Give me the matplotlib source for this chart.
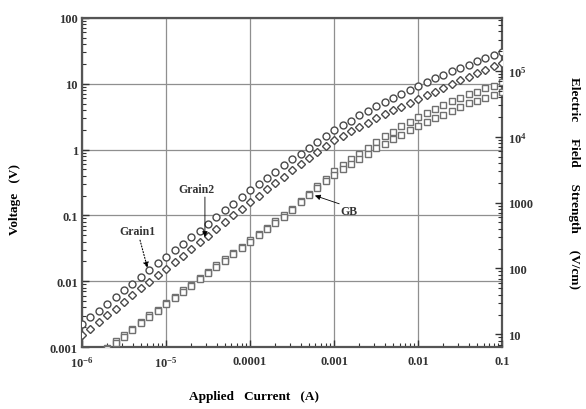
import matplotlib
matplotlib.use("Agg")
import matplotlib.pyplot as plt
from matplotlib.ticker import FixedLocator, FixedFormatter, LogLocator, NullFormatter

plt.rcParams['font.family'] = ['Liberation Serif', 'DejaVu Serif']
plt.rcParams['font.weight'] = 'bold'
plt.rcParams['mathtext.fontset'] = 'custom'
plt.rcParams['mathtext.rm'] = 'Liberation Serif:bold'
plt.rcParams['mathtext.default'] = 'rm'

# Applied current (A), 10 points per decade
current = [1.0e-6, 1.26e-6, 1.58e-6, 2.0e-6, 2.51e-6, 3.16e-6, 3.98e-6, 5.01e-6, 6.31e-6, 7.94e-6,
           1.0e-5, 1.26e-5, 1.58e-5, 2.0e-5, 2.51e-5, 3.16e-5, 3.98e-5, 5.01e-5, 6.31e-5, 7.94e-5,
           1.0e-4, 1.26e-4, 1.58e-4, 2.0e-4, 2.51e-4, 3.16e-4, 3.98e-4, 5.01e-4, 6.31e-4, 7.94e-4,
           1.0e-3, 1.26e-3, 1.58e-3, 2.0e-3, 2.51e-3, 3.16e-3, 3.98e-3, 5.01e-3, 6.31e-3, 7.94e-3,
           1.0e-2, 1.26e-2, 1.58e-2, 2.0e-2, 2.51e-2, 3.16e-2, 3.98e-2, 5.01e-2, 6.31e-2, 7.94e-2,
           1.0e-1]

grain1_v = [0.00224, 0.00282, 0.00355, 0.00457, 0.00575, 0.00724, 0.00912, 0.0115, 0.0148, 0.0186,
            0.0234, 0.0295, 0.0372, 0.0468, 0.0589, 0.0741, 0.0955, 0.120, 0.151, 0.191,
            0.240, 0.295, 0.372, 0.457, 0.575, 0.708, 0.871, 1.07, 1.32, 1.62,
            2.00, 2.34, 2.75, 3.31, 3.89, 4.57, 5.25, 6.03, 7.08, 8.13,
            9.33, 10.5, 12.0, 13.5, 15.5, 17.4, 19.5, 21.9, 24.5, 26.9,
            30.2]

grain2_v = [0.00151, 0.00191, 0.00240, 0.00302, 0.00380, 0.00479, 0.00617, 0.00776, 0.00977, 0.0123,
            0.0155, 0.0195, 0.0245, 0.0309, 0.0389, 0.0490, 0.0631, 0.0794, 0.100, 0.126,
            0.158, 0.200, 0.251, 0.309, 0.389, 0.490, 0.603, 0.741, 0.912, 1.12,
            1.38, 1.62, 1.91, 2.19, 2.57, 3.02, 3.47, 3.98, 4.47, 5.13,
            5.89, 6.76, 7.59, 8.71, 9.77, 11.2, 12.6, 14.5, 16.2, 18.6,
            20.9]

# grain-boundary curves start at 2e-6 A (current[3:])
gb1_v = [0.000977, 0.00123, 0.00151, 0.00191, 0.00240, 0.00302, 0.00372,
         0.00468, 0.00575, 0.00724, 0.00891, 0.0112, 0.0138, 0.0174, 0.0214, 0.0269, 0.0331,
         0.0417, 0.0525, 0.0646, 0.0813, 0.100, 0.126, 0.166, 0.214, 0.282, 0.363,
         0.479, 0.589, 0.724, 0.871, 1.07, 1.32, 1.58, 1.86, 2.24, 2.63,
         3.16, 3.63, 4.17, 4.68, 5.37, 6.17, 6.92, 7.59, 8.51, 9.33,
         10.5]

gb2_v = [0.00093, 0.00117, 0.00144, 0.00182, 0.00229, 0.00288, 0.00355,
         0.00447, 0.00549, 0.00692, 0.00851, 0.0107, 0.0132, 0.0166, 0.0204, 0.0257, 0.0316,
         0.0398, 0.0501, 0.0617, 0.0776, 0.0955, 0.120, 0.158, 0.204, 0.257, 0.331,
         0.417, 0.501, 0.603, 0.724, 0.871, 1.05, 1.23, 1.45, 1.66, 1.95,
         2.29, 2.63, 3.02, 3.39, 3.89, 4.47, 5.01, 5.50, 6.17, 6.76,
         7.59]

x_ticks = [1e-6, 1e-5, 1e-4, 1e-3, 1e-2, 1e-1]
x_ticklabels = ['$10^{-6}$', '$10^{-5}$', '0.0001', '0.001', '0.01', '0.1']
y_ticks = [0.001, 0.01, 0.1, 1, 10, 100]
y_ticklabels = ['0.001', '0.01', '0.1', '1', '10', '100']
e_ticks = [10, 100, 1000, 1e4, 1e5]
e_ticklabels = ['10', '100', '1000', '$10^{4}$', '$10^{5}$']
field_factor = 6400.0  # (V/cm) per V

fig = plt.figure(figsize=(5.86, 4.10), dpi=100)
ax = fig.add_axes([0.140, 0.151, 0.717, 0.803])

ec = '#4a4a4a'
ms = 5.0
ax.plot(current, grain1_v, linestyle='none', marker='o', markersize=ms,
        markerfacecolor='white', markeredgecolor=ec, markeredgewidth=1.0, zorder=3)
ax.plot(current, grain2_v, linestyle='none', marker='D', markersize=ms - 0.6,
        markerfacecolor='white', markeredgecolor=ec, markeredgewidth=1.0, zorder=3)
ax.plot(current[3:], gb1_v, linestyle='none', marker='s', markersize=ms - 0.3,
        markerfacecolor='white', markeredgecolor='#707070', markeredgewidth=1.0, zorder=3)
ax.plot(current[3:], gb2_v, linestyle='none', marker='s', markersize=ms - 0.3,
        markerfacecolor='white', markeredgecolor='#707070', markeredgewidth=1.0, zorder=3)

ax.set_xscale('log')
ax.set_yscale('log')
ax.set_xlim(1e-6, 0.1)
ax.set_ylim(0.001, 100)

ax.xaxis.set_major_locator(FixedLocator(x_ticks))
ax.xaxis.set_major_formatter(FixedFormatter(x_ticklabels))
ax.yaxis.set_major_locator(FixedLocator(y_ticks))
ax.yaxis.set_major_formatter(FixedFormatter(y_ticklabels))
ax.xaxis.set_minor_locator(LogLocator(base=10, subs=range(2, 10), numticks=20))
ax.yaxis.set_minor_locator(LogLocator(base=10, subs=range(2, 10), numticks=20))
ax.xaxis.set_minor_formatter(NullFormatter())
ax.yaxis.set_minor_formatter(NullFormatter())

ax.grid(True, which='major', color='#8f8f8f', linewidth=0.9)
ax.set_axisbelow(True)
ax.tick_params(which='both', direction='in', colors='#333333', labelsize=9)
ax.tick_params(which='major', length=5, width=1.0, top=False)
ax.tick_params(which='minor', length=3, width=0.8, top=False)
ax.tick_params(axis='x', pad=6)
ax.tick_params(axis='y', pad=3)
for s in ax.spines.values():
    s.set_color('#555555')
    s.set_linewidth(1.6)
for lab in ax.get_xticklabels() + ax.get_yticklabels():
    lab.set_fontweight('bold')

ax2 = ax.twinx()
ax2.set_yscale('log')
ax2.set_ylim(0.001 * field_factor, 100 * field_factor)
ax2.yaxis.set_major_locator(FixedLocator(e_ticks))
ax2.yaxis.set_major_formatter(FixedFormatter(e_ticklabels))
ax2.yaxis.set_minor_locator(LogLocator(base=10, subs=range(2, 10), numticks=20))
ax2.yaxis.set_minor_formatter(NullFormatter())
ax2.tick_params(which='both', direction='in', colors='#333333', labelsize=9)
ax2.tick_params(which='major', length=5, width=1.0, pad=4)
ax2.tick_params(which='minor', length=3, width=0.8)
for s in ax2.spines.values():
    s.set_visible(False)

ax.set_xlabel('Applied   Current   (A)', fontsize=9.5, fontweight='bold')
ax.xaxis.set_label_coords(0.41, -0.13)
ax.set_ylabel('Voltage   (V)', fontsize=9.5, fontweight='bold')
ax.yaxis.set_label_coords(-0.145, 0.45)
ax2.set_ylabel('Electric     Field     Strength     (V/cm)', fontsize=9.5, fontweight='bold',
               rotation=-90, va='center')
ax2.yaxis.set_label_coords(1.17, 0.5)

ax.text(4.6e-6, 0.058, 'Grain1', fontsize=8.5, ha='center', va='center', color='#333333', zorder=5)
ax.annotate('', xy=(6.0e-6, 0.016), xytext=(4.9e-6, 0.042),
            arrowprops=dict(arrowstyle='-|>', color='black', linewidth=0.8, linestyle=':',
                            mutation_scale=8, shrinkA=0, shrinkB=0), zorder=5)
ax.text(2.3e-5, 0.25, 'Grain2', fontsize=8.5, ha='center', va='center', color='#333333', zorder=5)
ax.annotate('', xy=(2.9e-5, 0.047), xytext=(2.9e-5, 0.19),
            arrowprops=dict(arrowstyle='-|>', color='black', linewidth=0.6,
                            mutation_scale=8, shrinkA=0, shrinkB=0), zorder=5)
ax.text(1.5e-3, 0.117, 'GB', fontsize=8.5, ha='center', va='center', color='#333333', zorder=5)
ax.annotate('', xy=(5.9e-4, 0.2), xytext=(1.15e-3, 0.15),
            arrowprops=dict(arrowstyle='-|>', color='black', linewidth=0.6,
                            mutation_scale=8, shrinkA=0, shrinkB=0), zorder=5)

fig.savefig('out.png', dpi=100)
